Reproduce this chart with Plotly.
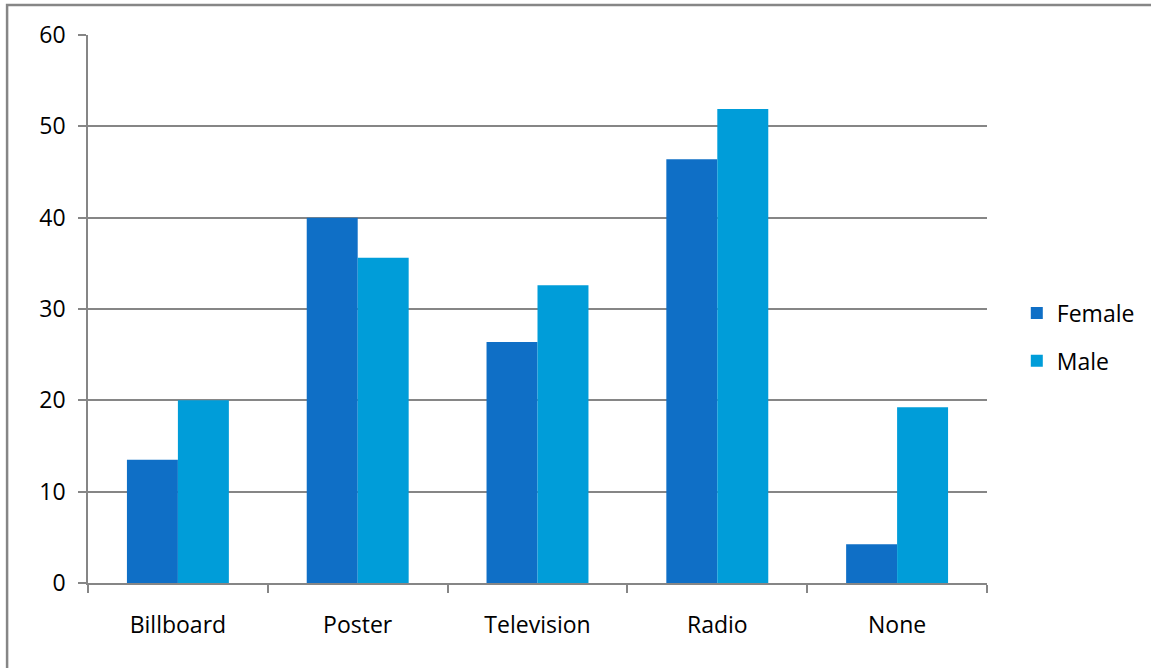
import plotly.graph_objects as go

categories = ["Billboard", "Poster", "Television", "Radio", "None"]
female = [13.5, 40.0, 26.4, 46.4, 4.25]
male = [20.0, 35.6, 32.6, 51.9, 19.25]
y_ticks = [0, 10, 20, 30, 40, 50, 60]

FONT = "Open Sans"
GRAY = "#868686"

fig = go.Figure()
fig.add_trace(go.Bar(name="Female", x=categories, y=female,
                     marker=dict(color="#0F6FC6", line=dict(width=0)),
                     legendgroup="f"))
fig.add_trace(go.Bar(name="Male", x=categories, y=male,
                     marker=dict(color="#009DD9", line=dict(width=0)),
                     legendgroup="m"))

# outer chart frame
fig.add_shape(type="rect", xref="paper", yref="paper",
              x0=-0.09, x1=1.3, y0=-0.3, y1=1.0547,
              line=dict(color=GRAY, width=2.5), layer="below")

fig.update_layout(
    width=1151, height=668,
    margin=dict(l=88, r=163, t=35, b=85),
    paper_bgcolor="white", plot_bgcolor="white",
    barmode="group", bargap=0.433, bargroupgap=0,
    font=dict(family=FONT, size=23, color="#000000"),
    showlegend=True,
    legend=dict(x=1.032, y=0.449, xanchor="left", yanchor="middle",
                font=dict(size=23), tracegroupgap=15,
                bgcolor="rgba(0,0,0,0)"),
    xaxis=dict(
        showgrid=False, showline=True, linecolor=GRAY, linewidth=1.5,
        ticks="outside", tickson="boundaries", ticklen=8, tickwidth=1.5,
        tickcolor=GRAY, ticklabelstandoff=21,
    ),
    yaxis=dict(
        range=[0, 60], tickvals=y_ticks, showgrid=True, gridcolor=GRAY,
        gridwidth=1.5, showline=True, linecolor=GRAY, linewidth=1.5,
        ticks="outside", ticklen=8, tickwidth=1.5, tickcolor=GRAY,
        ticklabelstandoff=8, zeroline=False,
    ),
)

fig.write_html("out.html")
